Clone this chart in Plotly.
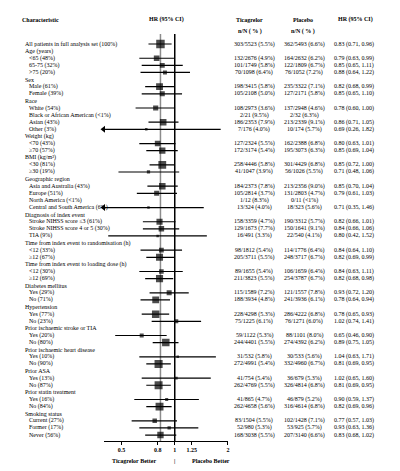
import math
import plotly.graph_objects as go

# ---------------- data ----------------
characteristics = [
    "All patients in full analysis set (100%)",
    "Age (years)", "<65 (48%)", "65-75 (32%)", ">75 (20%)",
    "Sex", "Male (61%)", "Female (39%)",
    "Race", "White (54%)", "Black or African American (<1%)", "Asian (43%)", "Other (3%)",
    "Weight (kg)", "<70 (43%)", "≥70 (57%)",
    "BMI (kg/m²)", "<30 (81%)", "≥30 (19%)",
    "Geographic region", "Asia and Australia (43%)", "Europe (51%)", "North America (<1%)",
    "Central and South America (6%)",
    "Diagnosis of index event", "Stroke NIHSS score ≤3 (61%)", "Stroke NIHSS score 4 or 5 (30%)", "TIA (9%)",
    "Time from index event to randomisation (h)", "<12 (33%)", "≥12 (67%)",
    "Time from index event to loading dose (h)", "<12 (30%)", "≥12 (69%)",
    "Diabetes mellitus", "Yes (29%)", "No (71%)",
    "Hypertension", "Yes (77%)", "No (23%)",
    "Prior ischaemic stroke or TIA", "Yes (20%)", "No (80%)",
    "Prior ischaemic heart disease", "Yes (10%)", "No (90%)",
    "Prior ASA", "Yes (13%)", "No (87%)",
    "Prior statin treatment", "Yes (16%)", "No (84%)",
    "Smoking status", "Current (27%)", "Former (17%)", "Never (56%)",
]
is_item = [
    0,
    0, 1, 1, 1,
    0, 1, 1,
    0, 1, 1, 1, 1,
    0, 1, 1,
    0, 1, 1,
    0, 1, 1, 1, 1,
    0, 1, 1, 1,
    0, 1, 1,
    0, 1, 1,
    0, 1, 1,
    0, 1, 1,
    0, 1, 1,
    0, 1, 1,
    0, 1, 1,
    0, 1, 1,
    0, 1, 1, 1,
]
ticagrelor = [
    "303/5523 (5.5%)",
    "", "132/2676 (4.9%)", "101/1749 (5.8%)", "70/1098 (6.4%)",
    "", "198/3415 (5.8%)", "105/2108 (5.0%)",
    "", "108/2973 (3.6%)", "2/21 (9.5%)", "186/2353 (7.9%)", "7/176 (4.0%)",
    "", "127/2324 (5.5%)", "172/3174 (5.4%)",
    "", "258/4446 (5.8%)", "41/1047 (3.9%)",
    "", "184/2373 (7.8%)", "105/2814 (3.7%)", "1/12 (8.3%)", "13/324 (4.0%)",
    "", "158/3359 (4.7%)", "129/1673 (7.7%)", "16/491 (3.3%)",
    "", "98/1812 (5.4%)", "205/3711 (5.5%)",
    "", "89/1655 (5.4%)", "211/3823 (5.5%)",
    "", "115/1589 (7.2%)", "188/3934 (4.8%)",
    "", "228/4298 (5.3%)", "75/1225 (6.1%)",
    "", "59/1122 (5.3%)", "244/4401 (5.5%)",
    "", "31/532 (5.8%)", "272/4991 (5.4%)",
    "", "41/754 (5.4%)", "262/4769 (5.5%)",
    "", "41/865 (4.7%)", "262/4658 (5.6%)",
    "", "83/1504 (5.5%)", "52/980 (5.3%)", "168/3038 (5.5%)",
]
placebo = [
    "362/5493 (6.6%)",
    "", "164/2632 (6.2%)", "122/1809 (6.7%)", "76/1052 (7.2%)",
    "", "235/3322 (7.1%)", "127/2171 (5.8%)",
    "", "137/2948 (4.6%)", "2/32 (6.3%)", "213/2339 (9.1%)", "10/174 (5.7%)",
    "", "162/2388 (6.8%)", "195/3073 (6.3%)",
    "", "301/4429 (6.8%)", "56/1026 (5.5%)",
    "", "213/2356 (9.0%)", "131/2803 (4.7%)", "0/11 (<1%)", "18/323 (5.6%)",
    "", "190/3312 (5.7%)", "150/1641 (9.1%)", "22/540 (4.1%)",
    "", "114/1776 (6.4%)", "248/3717 (6.7%)",
    "", "106/1659 (6.4%)", "254/3787 (6.7%)",
    "", "121/1557 (7.8%)", "241/3936 (6.1%)",
    "", "286/4222 (6.8%)", "76/1271 (6.0%)",
    "", "88/1101 (8.0%)", "274/4392 (6.2%)",
    "", "30/533 (5.6%)", "332/4960 (6.7%)",
    "", "36/679 (5.3%)", "326/4814 (6.8%)",
    "", "46/879 (5.2%)", "316/4614 (6.8%)",
    "", "102/1428 (7.1%)", "53/925 (5.7%)", "207/3140 (6.6%)",
]
hr = [
    0.83,
    None, 0.79, 0.85, 0.88,
    None, 0.82, 0.85,
    None, 0.78, None, 0.86, 0.69,
    None, 0.80, 0.85,
    None, 0.85, 0.71,
    None, 0.85, 0.79, None, 0.71,
    None, 0.82, 0.84, 0.80,
    None, 0.84, 0.82,
    None, 0.84, 0.82,
    None, 0.93, 0.78,
    None, 0.78, 1.02,
    None, 0.65, 0.89,
    None, 1.04, 0.81,
    None, 1.02, 0.81,
    None, 0.90, 0.82,
    None, 0.77, 0.93, 0.83,
]
ci_low = [
    0.71,
    None, 0.63, 0.65, 0.64,
    None, 0.68, 0.65,
    None, 0.60, None, 0.71, 0.26,
    None, 0.63, 0.69,
    None, 0.72, 0.48,
    None, 0.70, 0.61, None, 0.35,
    None, 0.66, 0.66, 0.42,
    None, 0.64, 0.69,
    None, 0.63, 0.68,
    None, 0.72, 0.64,
    None, 0.65, 0.74,
    None, 0.46, 0.75,
    None, 0.63, 0.69,
    None, 0.65, 0.69,
    None, 0.59, 0.69,
    None, 0.57, 0.63, 0.68,
]
ci_high = [
    0.96,
    None, 0.99, 1.11, 1.22,
    None, 0.99, 1.10,
    None, 1.00, None, 1.05, 1.82,
    None, 1.01, 1.04,
    None, 1.00, 1.06,
    None, 1.04, 1.03, None, 1.46,
    None, 1.01, 1.06, 1.52,
    None, 1.10, 0.99,
    None, 1.11, 0.98,
    None, 1.20, 0.94,
    None, 0.93, 1.41,
    None, 0.90, 1.05,
    None, 1.71, 0.95,
    None, 1.60, 0.95,
    None, 1.37, 0.96,
    None, 1.03, 1.36, 1.02,
]
x_ticks = [0.5, 0.8, 1, 1.25, 2]
x_tick_labels = ["0.5", "0.8", "1", "1.25", "2"]
overall_hr = hr[0]

# ---------------- layout helpers ----------------
W, H = 400, 471
FONT = "Liberation Serif"
n = len(characteristics)
rows = list(range(1, n + 1))
x_min, x_max = 0.395, 2.0
y_range = [56.84, -0.41]


def px(x):
    return x / W


def py(y):
    return 1 - y / H


fig = go.Figure()

# reference lines (no effect line and overall HR)
fig.add_trace(go.Scatter(x=[overall_hr, overall_hr], y=[y_range[0], y_range[1]], mode="lines",
                         line=dict(color="#8c8c8c", width=1.5), hoverinfo="skip", showlegend=False))
fig.add_trace(go.Scatter(x=[1, 1], y=[y_range[0], y_range[1]], mode="lines",
                         line=dict(color="black", width=1.5), hoverinfo="skip", showlegend=False))

# CI lines
cx, cy = [], []
arrow_x, arrow_y = [], []
for r, h, lo, hi in zip(rows, hr, ci_low, ci_high):
    if h is None:
        continue
    cx += [max(lo, x_min), min(hi, x_max), None]
    cy += [r, r, None]
    if lo < x_min:
        arrow_x.append(x_min)
        arrow_y.append(r)
fig.add_trace(go.Scatter(x=cx, y=cy, mode="lines", line=dict(color="black", width=1.2),
                         hoverinfo="skip", showlegend=False))
fig.add_trace(go.Scatter(x=arrow_x, y=arrow_y, mode="markers", cliponaxis=False,
                         marker=dict(symbol="triangle-left", size=6, color="black"),
                         hoverinfo="skip", showlegend=False))

# squares sized by number of events
sq_x, sq_y, sq_s = [], [], []
for r, h, t, p in zip(rows, hr, ticagrelor, placebo):
    if h is None:
        continue
    ev = int(t.split("/")[0]) + int(p.split("/")[0])
    sq_x.append(h)
    sq_y.append(r)
    sq_s.append(max(2.5, 8.5 * math.sqrt(ev / 665)))
fig.add_trace(go.Scatter(x=sq_x, y=sq_y, mode="markers",
                         marker=dict(symbol="square", size=sq_s, color="black", line=dict(width=0)),
                         hoverinfo="skip", showlegend=False))

ann = []
FS = 6
# left labels
for r, lab, item in zip(rows, characteristics, is_item):
    ann.append(dict(x=px(19 if item else 15), y=r, xref="paper", yref="y", text=lab,
                    xanchor="left", yanchor="middle", showarrow=False,
                    font=dict(size=FS, family=FONT, color="black")))
# right columns
for r, t, p, h, lo, hi in zip(rows, ticagrelor, placebo, hr, ci_low, ci_high):
    if t:
        ann.append(dict(x=px(247.5), y=r, xref="paper", yref="y", text=t, xanchor="center",
                        yanchor="middle", showarrow=False, font=dict(size=FS, family=FONT, color="black")))
    if p:
        ann.append(dict(x=px(297.5), y=r, xref="paper", yref="y", text=p, xanchor="center",
                        yanchor="middle", showarrow=False, font=dict(size=FS, family=FONT, color="black")))
    if h is not None:
        ann.append(dict(x=px(347.5), y=r, xref="paper", yref="y",
                        text=f"{h:.2f} ({lo:.2f}, {hi:.2f})", xanchor="center",
                        yanchor="middle", showarrow=False, font=dict(size=FS, family=FONT, color="black")))

# headers
hdrs = [
    ("<b>Characteristic</b>", 12, 12, "left"),
    ("<b>HR (95% CI)</b>", 159, 12, "center"),
    ("<b>Ticagrelor</b>", 243, 12, "center"),
    ("<b>n/N ( % )</b>", 243, 24, "center"),
    ("<b>Placebo</b>", 296.5, 12, "center"),
    ("<b>n/N ( % )</b>", 296.5, 24, "center"),
    ("<b>HR (95% CI)</b>", 349.5, 12, "center"),
    ("<b>Ticagrelor Better</b>", 126.5, 453, "center"),
    ("<b>|</b>", 167.5, 453, "center"),
    ("<b>Placebo Better</b>", 204, 453, "center"),
]
for text, x, y, xa in hdrs:
    ann.append(dict(x=px(x), y=py(y), xref="paper", yref="paper", text=text, xanchor=xa,
                    yanchor="middle", showarrow=False, font=dict(size=FS, family=FONT, color="black")))

fig.update_layout(
    width=W, height=H,
    margin=dict(l=0, r=0, t=0, b=0),
    paper_bgcolor="white", plot_bgcolor="white",
    showlegend=False,
    annotations=ann,
    xaxis=dict(type="log", domain=[px(96), px(221)],
               range=[math.log10(x_min), math.log10(x_max)],
               tickvals=x_ticks, ticktext=[f"<b>{t}</b>" for t in x_tick_labels],
               ticks="outside", ticklen=3, tickwidth=1, tickcolor="black",
               showline=True, linecolor="black", linewidth=1.3,
               showgrid=False, zeroline=False,
               tickfont=dict(size=FS, family=FONT, color="black")),
    yaxis=dict(domain=[py(433), py(26)], range=y_range, visible=False,
               showgrid=False, zeroline=False),
)

fig.write_html("out.html")
